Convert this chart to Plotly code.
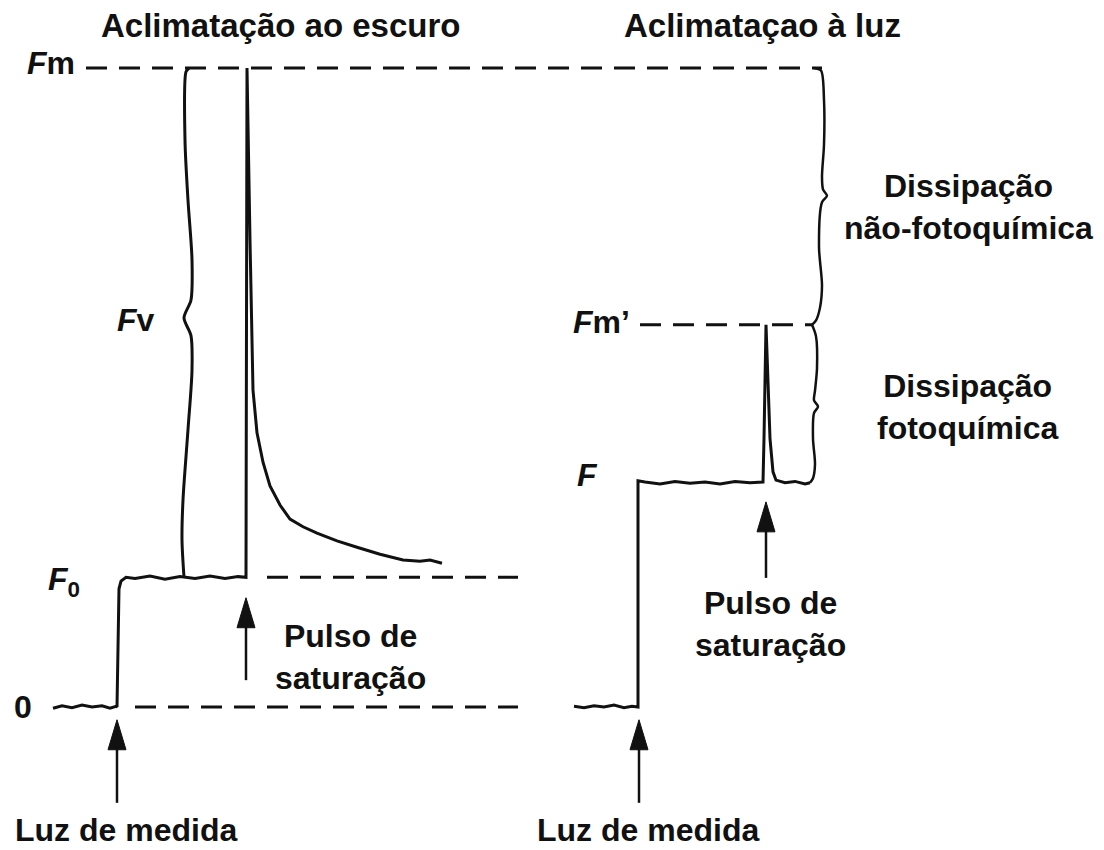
"""Chlorophyll fluorescence quenching diagram (dark vs light acclimation)."""

import plotly.graph_objects as go

# fluorescence levels, arbitrary units (Fm = 1000)
LEVEL_ZERO = 0
LEVEL_F0 = 203
LEVEL_F = 352
LEVEL_FM_PRIME = 598
LEVEL_FM = 1000

# dark-acclimated trace: time (a.u.) / fluorescence (a.u.)
dark_t = [53, 62, 72, 82, 92, 102, 110, 116, 117, 118, 119, 121, 126, 135, 150, 165, 180,
          195, 210, 225, 238, 246, 247, 250, 253, 257, 263, 270, 280, 290, 303, 317,
          337, 357, 380, 403, 420, 430, 442]
dark_f = [-2, 2, -1, 3, 0, 2, -2, 1, 0, 120, 185, 197, 203, 201, 205, 200, 204,
          201, 205, 201, 204, 203, 1000, 731, 496, 429, 383, 346, 316, 294, 282, 272,
          260, 250, 239, 230, 228, 230, 225]

# light-acclimated trace
light_t = [574, 584, 594, 604, 614, 624, 632, 638, 638, 645, 660, 675, 690, 705, 720, 735,
           750, 763, 764, 766, 770, 773, 776, 785, 795, 805, 810]
light_f = [1, -1, 2, 0, 3, -1, 1, 0, 354, 352, 349, 353, 350, 352, 349, 353,
           351, 352, 420, 598, 420, 368, 355, 351, 353, 349, 351]

# brace outlines (time, fluorescence)
brace_fv_t = [189, 186, 185, 188, 192, 191, 184, 191, 192, 188, 183, 182, 184]
brace_fv_f = [1000, 994, 887, 793, 700, 637, 609, 581, 527, 434, 324, 261, 203]

brace_nonphoto_t = [814, 821, 824, 824, 822, 823, 827, 822, 819, 822, 820, 816, 812]
brace_nonphoto_f = [1000, 996, 950, 880, 830, 810, 800, 790, 720, 660, 625, 605, 598]

brace_photo_t = [812, 816, 817, 815, 814, 818, 814, 813, 815, 813, 810]
brace_photo_f = [598, 580, 530, 495, 480, 470, 460, 420, 380, 358, 351]

# dashed reference lines: start, end, level
ref_start = [86, 267, 135, 640]
ref_end = [822, 518, 518, 812]
ref_level = [LEVEL_FM, LEVEL_F0, LEVEL_ZERO, LEVEL_FM_PRIME]

# arrows: position, tail, head (fluorescence a.u.)
arrow_x = [117, 246, 639, 766]
arrow_tail = [-150, 42, -150, 202]
arrow_head = [-20, 171, -20, 321]

# axis limits matching the drawing area
T_RANGE = [8, 1096]
F_RANGE = [-211.3, 1093.9]

W, H = 1088, 834
F_PER_PX = (F_RANGE[1] - F_RANGE[0]) / H
HEAD_LEN = 30 * F_PER_PX
HEAD_HALF = 9

INK = "#111111"
FONT = "Liberation Sans, Arial, sans-serif"

fig = go.Figure()


def add_line(x, y, width=3, dash=None):
    fig.add_trace(go.Scatter(x=x, y=y, mode="lines", hoverinfo="skip",
                             line=dict(color=INK, width=width, dash=dash)))


def add_spline(x, y, width=2.5):
    fig.add_trace(go.Scatter(x=x, y=y, mode="lines", hoverinfo="skip",
                             line=dict(color=INK, width=width, shape="spline", smoothing=0.8)))


for x0, x1, lev in zip(ref_start, ref_end, ref_level):
    add_line([x0, x1], [lev, lev], width=3, dash="21px,12px")

add_line(dark_t, dark_f, width=3)
add_line(light_t, light_f, width=3)

add_spline(brace_fv_t, brace_fv_f, width=3)
add_spline(brace_nonphoto_t, brace_nonphoto_f)
add_spline(brace_photo_t, brace_photo_f)

for ax_, tail, head in zip(arrow_x, arrow_tail, arrow_head):
    add_line([ax_, ax_], [tail, head - HEAD_LEN * 0.5], width=2.5)
    fig.add_trace(go.Scatter(
        x=[ax_ - HEAD_HALF, ax_, ax_ + HEAD_HALF, ax_ - HEAD_HALF],
        y=[head - HEAD_LEN, head, head - HEAD_LEN, head - HEAD_LEN],
        mode="lines", fill="toself", fillcolor=INK, hoverinfo="skip",
        line=dict(color=INK, width=1)))


def label(text, x, y, xanchor="center", size=32):
    fig.add_annotation(text=text, x=x, y=y, xref="x", yref="y", showarrow=False,
                       xanchor=xanchor, yanchor="middle", align="center",
                       font=dict(family=FONT, size=size, color=INK, weight="bold"))


label("Aclimatação ao escuro", 281, 1067, size=33)
label("Aclimataçao à luz", 762, 1067, size=33)
label("<i>F</i>m", 25, LEVEL_FM + 8, xanchor="left")
label("<i>F</i>v", 115, 605, xanchor="left")
label("<i>F</i><sub>0</sub>", 46, LEVEL_F0 - 6, xanchor="left")
label("0", 12, LEVEL_ZERO, xanchor="left")
label("<i>F</i>m’", 571, LEVEL_FM_PRIME + 5, xanchor="left")
label("<i>F</i>", 575, LEVEL_F + 11, xanchor="left")
label("Dissipação<br>não-fotoquímica", 968, 782)
label("Dissipação<br>fotoquímica", 968, 469)
label("Pulso de<br>saturação", 350, 78)
label("Pulso de<br>saturação", 770, 130)
label("Luz de medida", 126, -192)
label("Luz de medida", 648, -192)

fig.update_layout(
    width=W,
    height=H,
    margin=dict(l=0, r=0, t=0, b=0),
    showlegend=False,
    plot_bgcolor="white",
    paper_bgcolor="white",
    xaxis=dict(range=T_RANGE, visible=False, fixedrange=True),
    yaxis=dict(range=F_RANGE, visible=False, fixedrange=True),
)

fig.write_html("out.html")
